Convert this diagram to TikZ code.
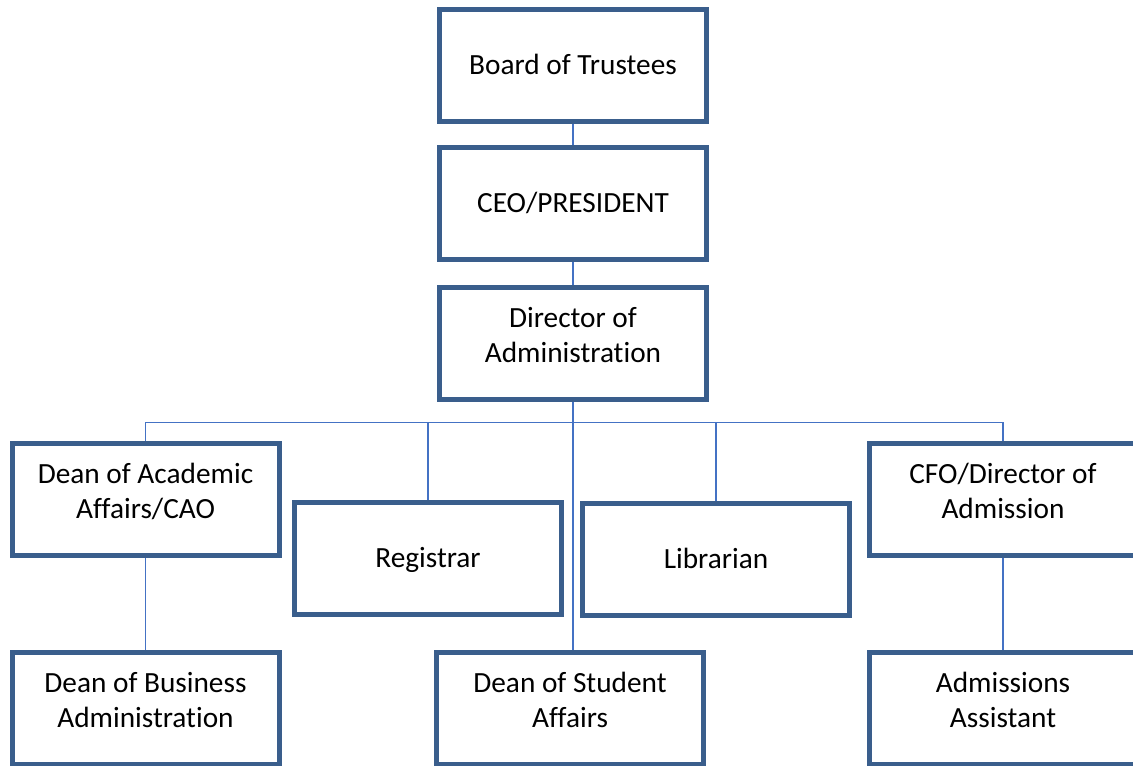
\documentclass[tikz,border=0pt]{standalone}
\usepackage{fontspec}
\setmainfont{Carlito}[Ligatures=NoCommon]
\usepackage{tikz}
\usetikzlibrary{positioning}
\definecolor{boxblue}{RGB}{58,94,140}
\definecolor{linkblue}{RGB}{68,114,196}

\begin{document}
\begin{tikzpicture}[x=1pt,y=-1pt]
			\def\bw{267}
			\def\bh{112}
			\tikzset{post/.style={draw=boxblue, line width=5pt, fill=white, inner sep=0pt, minimum width=\bw pt, minimum height=\bh pt, align=center, font=\fontsize{29.3}{35}\selectfont, text height=20pt, text depth=2pt},
				twoline/.style={post, text height=55pt, text depth=17pt},
				link/.style={draw=linkblue, line width=1.1pt}}
			\useasboundingbox (0,0) rectangle (1133,766);
			% top column
			\node[post] (board) at (573,65.5) {Board of Trustees};
			\node[post] (ceo) at (573,203.5) {CEO/PRESIDENT};
			\node[twoline] (dir) at (573,343) {Director of\\Administration};
			% second level
			\node[twoline] (acad) at (145.5,499) {Dean of Academic\\Affairs/CAO};
			\node[post] (reg) at (428,558) {Registrar};
			\node[post] (lib) at (716,559) {Librarian};
			\node[twoline] (cfo) at (1003,499) {CFO/Director of\\Admission};
			% bottom row
			\node[twoline] (bus) at (145.5,708) {Dean of Business\\Administration};
			\node[twoline] (stud) at (570,708) {Dean of Student\\Affairs};
			\node[twoline] (adm) at (1003,708) {Admissions\\Assistant};
			\coordinate (bar) at (573,422.5);
			% connectors
			\draw[link] (board) -- (ceo);
			\draw[link] (ceo) -- (dir);
			\draw[link] (dir.south) -- (stud.north -| dir.south);
			\draw[link] (acad.north) |- (bar) -| (cfo.north);
			\foreach\n in {reg,lib}{
				\draw[link] (\n.north) |- (bar);
			}
			\draw[link] (acad) -- (bus);
			\draw[link] (cfo) -- (adm);
		\end{tikzpicture}
\end{document}
